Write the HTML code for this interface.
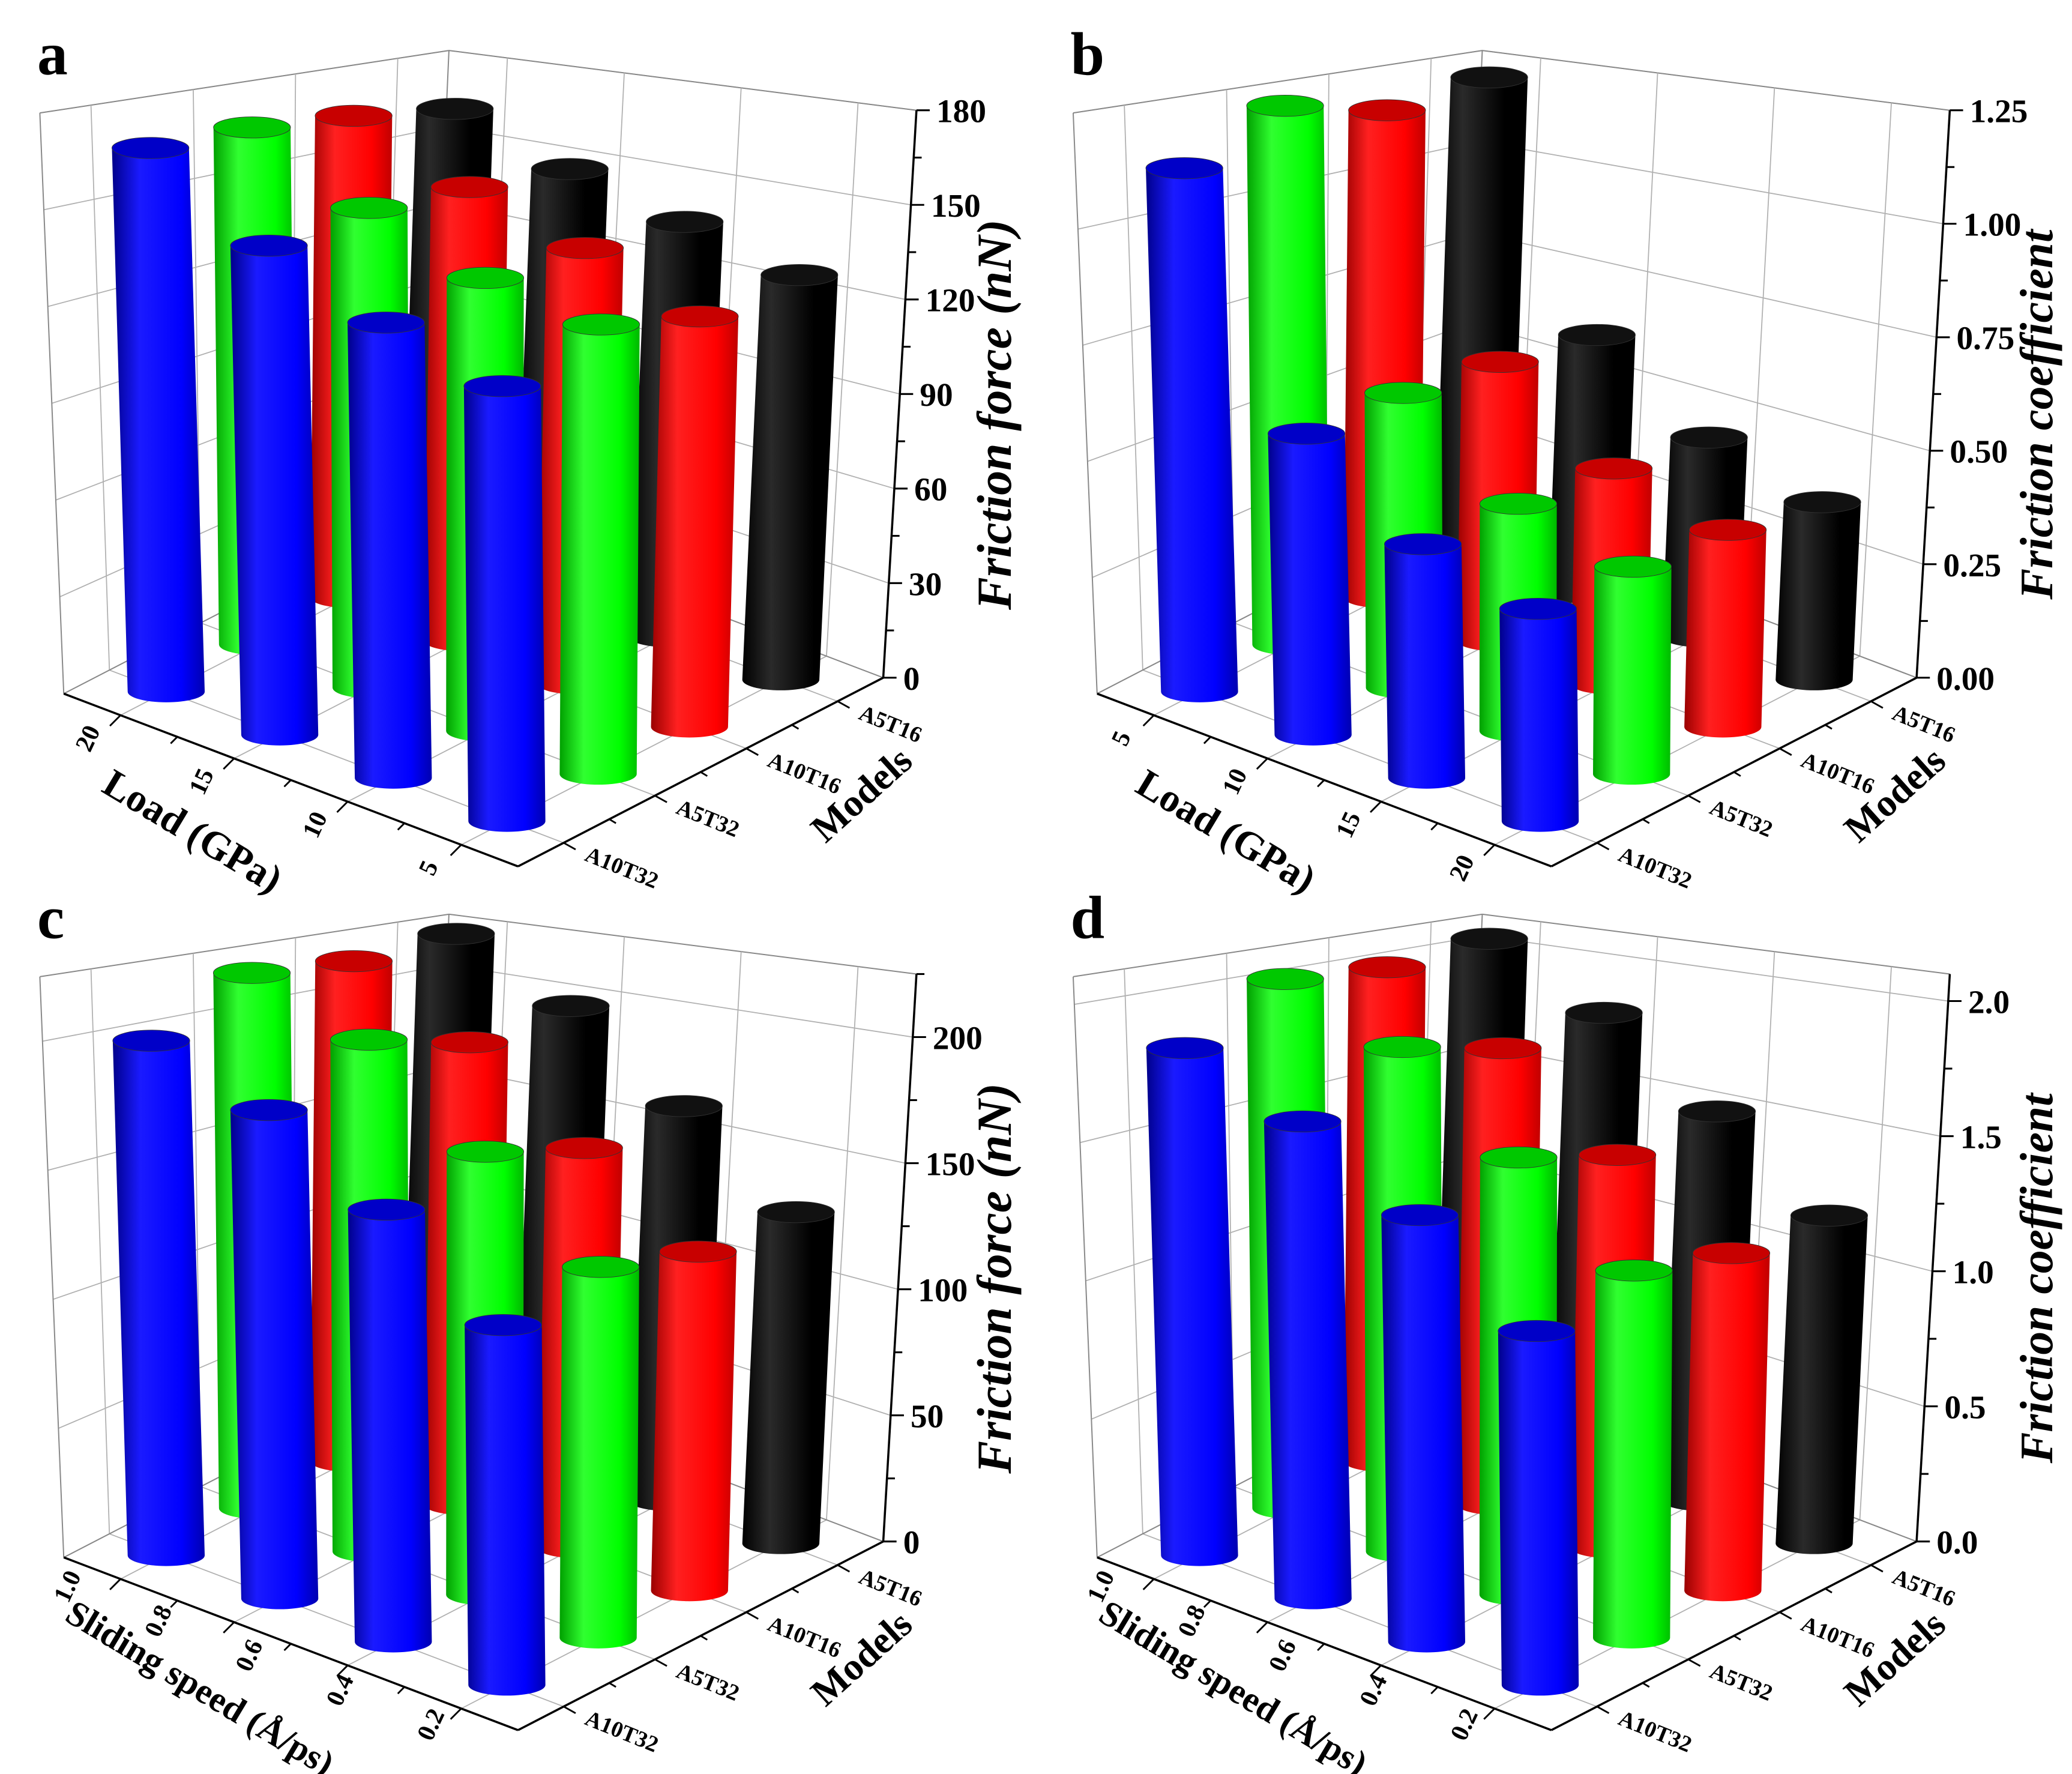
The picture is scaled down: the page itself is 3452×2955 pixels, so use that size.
<!DOCTYPE html>
<html><head><meta charset="utf-8"><style>
html,body{margin:0;padding:0;background:#fff;}
svg{display:block;}
text{font-family:"Liberation Serif",serif;font-weight:bold;fill:#000;}
</style></head><body>
<svg id="fig" xmlns="http://www.w3.org/2000/svg" width="3452" height="2955" viewBox="0 0 1560 1335" preserveAspectRatio="none">
<defs id="defs"></defs>
</svg>
<script>
// ---- data ----
const models = ['A10T32','A5T32','A10T16','A5T16'];
const seriesColors = ['#0000ff','#00ff00','#ff0000','#000000'];
const catsA = ['20','15','10','5'];
const catsB = ['5','10','15','20'];
const catsC = ['1.0','0.8','0.6','0.4'];
const speedTicks = ['1.0','0.8','0.6','0.4','0.2'];
const valA_A10T32 = [169,145,129,118];
const valA_A5T32  = [170,150,135,128];
const valA_A10T16 = [168,150,137,123];
const valA_A5T16  = [164,149,138,128];
const valB_A10T32 = [1.13,0.62,0.46,0.40];
const valB_A5T32  = [1.23,0.64,0.47,0.41];
const valB_A10T16 = [1.18,0.64,0.47,0.41];
const valB_A5T16  = [1.22,0.63,0.46,0.39];
const valC_A10T32 = [200,181,153,122];
const valC_A5T32  = [220,200,165,132];
const valC_A10T16 = [218,191,157,127];
const valC_A5T16  = [223,198,164,131];
const valD_A10T32 = [1.84,1.65,1.41,1.12];
const valD_A5T32  = [2.03,1.84,1.52,1.22];
const valD_A10T16 = [2.01,1.76,1.44,1.18];
const valD_A5T16  = [2.06,1.82,1.51,1.21];
const ticksA = [0,30,60,90,120,150,180];
const ticksB = [0,0.25,0.5,0.75,1.0,1.25];
const ticksC = [0,50,100,150,200];
const ticksD = [0,0.5,1.0,1.5,2.0];
const tickLabB = ['0.00','0.25','0.50','0.75','1.00','1.25'];
const tickLabD = ['0.0','0.5','1.0','1.5','2.0'];

const NS='http://www.w3.org/2000/svg';
const svg=document.getElementById('fig');
const defs=document.getElementById('defs');
function mk(tag,attrs,parent){const e=document.createElementNS(NS,tag);for(const k in attrs)e.setAttribute(k,attrs[k]);(parent||svg).appendChild(e);return e;}

const shades={'#0000ff':['#00008a','#1a1aff','#0000b0','#0000c8'],'#00ff00':['#00a000','#30ff30','#00b800','#00c800'],'#ff0000':['#9a0000','#ff2020','#c00000','#c80000'],'#000000':['#000','#2a2a2a','#000','#111']};
seriesColors.forEach((c,i)=>{
  const g=mk('linearGradient',{id:'g'+i,x1:'0',y1:'0',x2:'1',y2:'0'},defs);
  const s=shades[c];
  mk('stop',{offset:'0','stop-color':s[0]},g);
  mk('stop',{offset:'0.3','stop-color':s[1]},g);
  mk('stop',{offset:'0.75','stop-color':c},g);
  mk('stop',{offset:'1','stop-color':s[2]},g);
});

function panel(o){
  const ox=o.ox, oy=o.oy;
  const gp=mk('g',{});
  
  
  const L=[48+ox,522+oy],F=[390+ox,652+oy],R=[665+ox,510+oy];
  const P=(u,v)=>[L[0]+u*(F[0]-L[0])+v*(R[0]-F[0]), L[1]+u*(F[1]-L[1])+v*(R[1]-F[1])];
  const Hf=(u,v)=>437+85*u-95*v;
  const Tf=(u,v)=>-18+10*u+33*v;
  const up=(u,v,val)=>{const p=P(u,v);const f=val/o.max;return [p[0]+Tf(u,v)*f,p[1]-Hf(u,v)*f];};
  const line=(a,b,st,w,name)=>{const l=mk('line',{x1:a[0],y1:a[1],x2:b[0],y2:b[1],stroke:st,'stroke-width':w},gp);return l;};
  const gray='#b0b0b0';
  o.ticks.forEach(t=>{
    line(up(0,0,t),up(0,1,t),gray,0.8,'left-wall-gridline');
    line(up(0,1,t),up(1,1,t),gray,0.8,'back-wall-gridline');
  });
  line(up(0,0,o.max),up(0,1,o.max),'#888',0.9,'left-wall-top');
  line(up(0,1,o.max),up(1,1,o.max),'#888',0.9,'back-wall-top');
  line(up(0,0,0),up(0,0,o.max),'#888',0.9,'left-wall-edge');
  line(up(0,1,0),up(0,1,o.max),'#888',0.9,'back-wall-edge');
  [0.125,0.375,0.625,0.875].forEach(k=>{
    line(up(0,k,0),up(0,k,o.max),gray,0.8,'left-wall-vline');
    line(up(k,1,0),up(k,1,o.max),gray,0.8,'back-wall-vline');
    line(P(k,0),P(k,1),gray,0.8,'floor-gridline');
    line(P(0,k),P(1,k),gray,0.8,'floor-gridline');
  });
  line(P(0,0),P(0,1),'#888',0.9,'floor-edge');
  line(P(0,1),P(1,1),'#888',0.9,'floor-edge');
  const bars=[];
  o.vals.forEach((arr,m)=>arr.forEach((val,i)=>{const u=(i+0.5)/4,v=(m+0.5)/4;bars.push({u,v,val,m,i});}));
  bars.sort((a,b)=>P(a.u,a.v)[1]-P(b.u,b.v)[1]);
  const r=29, ry=8;
  bars.forEach(b=>{
    const base=P(b.u,b.v), top=up(b.u,b.v,b.val);
    const gb=mk('g',{},gp);
    
    
    const d=`M${base[0]-r},${base[1]} L${top[0]-r},${top[1]} L${top[0]+r},${top[1]} L${base[0]+r},${base[1]} A${r},${ry} 0 0 1 ${base[0]-r},${base[1]} Z`;
    mk('path',{d:d,fill:`url(#g${b.m})`},gb);
    mk('ellipse',{cx:top[0],cy:top[1],rx:r,ry:ry,fill:shades[seriesColors[b.m]][3],stroke:'#333','stroke-width':0.4},gb);
  });
  line(L,F,'#000',1.6,'category-axis-line');
  line(F,R,'#000',1.6,'models-axis-line');
  line(up(1,1,0),up(1,1,o.max),'#000',1.6,'value-axis-line');
  const step=o.ticks[1]-o.ticks[0];
  for(let t=0;t<=o.max+1e-9;t+=step/2){
    const p=up(1,1,t);const major=Math.abs((t/step)-Math.round(t/step))<1e-6;
    line(p,[p[0]+(major?10:6),p[1]],'#000',1.4,major?'value-major-tick':'value-minor-tick');
  }
  o.ticks.forEach((t,i)=>{
    const p=up(1,1,t);
    const tx=mk('text',{x:p[0]+15,y:p[1]+9,'font-size':25},gp);
    tx.textContent=o.tickLabels?o.tickLabels[i]:String(t);
    
    
  });
  const vt=mk('text',{x:0,y:0,'font-size':o.ytSize,'font-style':'italic','text-anchor':'middle',transform:`translate(${R[0]+o.ytx},${oy+312}) rotate(-90)`},gp);
  vt.textContent=o.ytitle;
  
  
  for(let k=1;k<8;k++){
    const u=k/8;const p=P(u,0);const major=k%2===1;
    line(p,[p[0]-(major?8:5),p[1]+(major?8:5)],'#000',1.3,'category-tick');
  }
  const cl=o.catTicks||o.cats;
  cl.forEach((c,i)=>{
    const u=o.catTicks?(0.08+i*0.2):(i+0.5)/4;
    const p=P(u,0);
    const tx=mk('text',{x:0,y:0,'font-size':19,'text-anchor':'middle',transform:`translate(${p[0]-19},${p[1]+(o.catTicks?14:20)}) rotate(-65)`},gp);
    tx.textContent=c;
    
    
  });
  const ct=mk('text',{x:0,y:0,'font-size':o.xtitleSize,'text-anchor':'middle',transform:`translate(${ox+o.xtx},${oy+o.xty}) rotate(31)`},gp);
  ct.textContent=o.xtitle;
  
  
  for(let k=1;k<8;k++){
    const p=P(1,k/8);const major=k%2===1;
    line(p,[p[0]+(major?9:5),p[1]+(major?5:3)],'#000',1.3,'models-tick');
  }
  models.forEach((m,i)=>{
    const p=P(1,(i+0.5)/4);
    const tx=mk('text',{x:0,y:0,'font-size':17,transform:`translate(${p[0]+15},${p[1]+13}) rotate(22)`},gp);
    tx.textContent=m;
    
    
  });
  const mt=mk('text',{x:0,y:0,'font-size':29,'text-anchor':'middle',transform:`translate(${ox+655},${oy+605}) rotate(-42)`},gp);
  mt.textContent='Models';
  
  
  const lt=mk('text',{x:ox+28,y:oy+56,'font-size':46},gp);
  lt.textContent=o.letter;
  
  
}

panel({name:'panel-a',letter:'a',ox:0,oy:0,max:180,ticks:ticksA,cats:catsA,vals:[valA_A10T32,valA_A5T32,valA_A10T16,valA_A5T16],ytitle:'Friction force (nN)',ytx:96,ytSize:37,xtitle:'Load (GPa)',xtitleSize:30,xtx:140,xty:634});
panel({name:'panel-b',letter:'b',ox:778,oy:0,max:1.25,ticks:ticksB,tickLabels:tickLabB,cats:catsB,vals:[valB_A10T32,valB_A5T32,valB_A10T16,valB_A5T16],ytitle:'Friction coefficient',ytx:102,ytSize:35,xtitle:'Load (GPa)',xtitleSize:30,xtx:140,xty:634});
panel({name:'panel-c',letter:'c',ox:0,oy:650,max:225,ticks:ticksC,cats:catsC,catTicks:speedTicks,vals:[valC_A10T32,valC_A5T32,valC_A10T16,valC_A5T16],ytitle:'Friction force (nN)',ytx:96,ytSize:37,xtitle:'Sliding speed (Å/ps)',xtitleSize:27,xtx:146,xty:628});
panel({name:'panel-d',letter:'d',ox:778,oy:650,max:2.1,ticks:ticksD,tickLabels:tickLabD,cats:catsC,catTicks:speedTicks,vals:[valD_A10T32,valD_A5T32,valD_A10T16,valD_A5T16],ytitle:'Friction coefficient',ytx:102,ytSize:35,xtitle:'Sliding speed (Å/ps)',xtitleSize:27,xtx:146,xty:628});
</script>
</body></html>
